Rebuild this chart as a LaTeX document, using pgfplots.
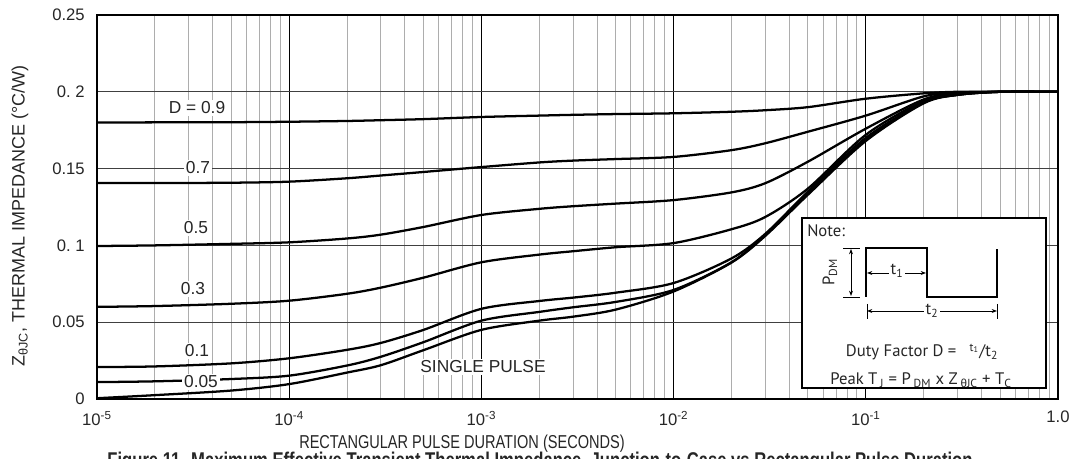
\documentclass[border=0pt]{standalone}
\usepackage{fontspec}
\setmainfont{Liberation Sans}
\newfontfamily\narrowfont[FakeStretch=0.78]{Liberation Sans}
\newfontfamily\notefont{PT Sans}
\usepackage{pgfplots}
\usepackage{pgfplotstable}
\pgfplotsset{compat=1.18}
\usetikzlibrary{arrows.meta}

% Z_thetaJC vs pulse duration, one column per duty factor
\pgfplotstableread{
t      d9     d7     d5     d3     d1     d05    sp
1e-5   0.1800 0.1406 0.0996 0.0600 0.0208 0.0110 0.0005
2e-5   0.1801 0.1406 0.1000 0.0605 0.0212 0.0115 0.0025
5e-5   0.1802 0.1408 0.1010 0.0620 0.0232 0.0130 0.0055
1e-4   0.1805 0.1415 0.1020 0.0640 0.0265 0.0152 0.0097
2e-4   0.1810 0.1437 0.1045 0.0685 0.0320 0.0218 0.0172
3e-4   0.1815 0.1455 0.1070 0.0725 0.0365 0.0275 0.0220
5e-4   0.1822 0.1478 0.1120 0.0790 0.0450 0.0370 0.0318
1e-3   0.1836 0.1510 0.1198 0.0890 0.0587 0.0510 0.0450
2e-3   0.1845 0.1540 0.1238 0.0940 0.0638 0.0567 0.0510
3e-3   0.1850 0.1552 0.1255 0.0962 0.0660 0.0597 0.0536
5e-3   0.1855 0.1562 0.1272 0.0988 0.0692 0.0632 0.0582
1e-2   0.1860 0.1576 0.1295 0.1015 0.0755 0.0710 0.0700
2e-2   0.1870 0.1620 0.1345 0.1105 0.0915 0.0890 0.0888
3e-2   0.1880 0.1665 0.1405 0.1185 0.1075 0.1070 0.1062
5e-2   0.1900 0.1740 0.1545 0.1370 0.1350 0.1340 0.1330
1e-1   0.1955 0.1845 0.1760 0.1720 0.1700 0.1690 0.1680
2e-1   0.1990 0.1970 0.1950 0.1940 0.1930 0.1930 0.1925
3e-1   0.2000 0.1995 0.1990 0.1985 0.1980 0.1980 0.1980
5e-1   0.2000 0.2000 0.2000 0.2000 0.2000 0.2000 0.2000
1      0.2000 0.2000 0.2000 0.2000 0.2000 0.2000 0.2000
}\zjc

\begin{document}
\begin{tikzpicture}
\useasboundingbox (-72.75pt,-45pt) rectangle (731.25pt,299.25pt);
\begin{axis}[
    at={(0,0)}, anchor=south west,
    scale only axis, width=720.75pt, height=288pt,
    xmode=log, log basis x=10,
    xmin=1e-5, xmax=1, ymin=0, ymax=0.25,
    xtick={1e-5,1e-4,1e-3,1e-2,1e-1,1},
    xticklabels={10\textsuperscript{-5},10\textsuperscript{-4},10\textsuperscript{-3},10\textsuperscript{-2},10\textsuperscript{-1},1.0},
    minor xtick={2e-5,3e-5,4e-5,5e-5,6e-5,7e-5,8e-5,9e-5,
                 2e-4,3e-4,4e-4,5e-4,6e-4,7e-4,8e-4,9e-4,
                 2e-3,3e-3,4e-3,5e-3,6e-3,7e-3,8e-3,9e-3,
                 2e-2,3e-2,4e-2,5e-2,6e-2,7e-2,8e-2,9e-2,
                 0.2,0.3,0.4,0.5,0.6,0.7,0.8,0.9},
    ytick={0,0.05,0.1,0.15,0.2,0.25},
    yticklabels={0,0.05,0.\ 1,0.15,0.\ 2,0.25},
    major tick length=0pt, minor tick length=0pt,
    xmajorgrids, xminorgrids, ymajorgrids,
    major x grid style={black, line width=0.8pt},
    minor x grid style={black!32, line width=0.75pt},
    major y grid style={black!75, line width=0.8pt},
    axis line style={line width=2.2pt},
    tick label style={font=\fontsize{12.5}{14}\selectfont, text=black!85},
    yticklabel style={anchor=east, inner sep=0pt, xshift=-9pt},
    xticklabel style={anchor=north, inner sep=0pt, yshift=-9pt},
]
\addplot[black, line width=1.7pt, smooth] table[x=t, y=d9] {\zjc};
\addplot[black, line width=1.7pt, smooth] table[x=t, y=d7] {\zjc};
\addplot[black, line width=1.7pt, smooth] table[x=t, y=d5] {\zjc};
\addplot[black, line width=1.7pt, smooth] table[x=t, y=d3] {\zjc};
\addplot[black, line width=1.7pt, smooth] table[x=t, y=d1] {\zjc};
\addplot[black, line width=1.7pt, smooth] table[x=t, y=d05] {\zjc};
\addplot[black, line width=1.7pt, smooth] table[x=t, y=sp] {\zjc};
\end{axis}

% annotations, in pixel units of the reference
\begin{scope}[x=0.75pt, y=-0.75pt, shift={(-72.75pt,299.25pt)}]
\tikzset{lbl/.style={fill=white, inner sep=1.5pt, text=black!85, font=\fontsize{13}{15}\selectfont}}
\node[lbl] at (197,108) {D = 0.9};
\node[lbl] at (198,168) {0.7};
\node[lbl] at (196,228) {0.5};
\node[lbl] at (193,289) {0.3};
\node[lbl] at (197,351) {0.1};
\node[lbl] at (201,382) {0.05};
\node[lbl] at (483,367) {SINGLE PULSE};

\node[rotate=90, text=black!85, font=\fontsize{13.5}{15}\selectfont] at (20,216)
  {Z\textsubscript{θJC}, THERMAL IMPEDANCE (°C/W)};
\node[text=black!85, font=\narrowfont\fontsize{14}{16}\selectfont] at (462,444)
  {RECTANGULAR PULSE DURATION (SECONDS)};
\node[anchor=north, inner sep=0pt, text=black!85, font=\narrowfont\bfseries\fontsize{16}{18}\selectfont] at (540,452)
  {Figure 11. Maximum Effective Transient Thermal Impedance, Junction-to-Case vs Rectangular Pulse Duration};

% note box
\draw[line width=1.6pt, fill=white] (802,218) rectangle (1046,388);
\begin{scope}[font=\notefont\fontsize{12.5}{14}\selectfont, text=black!85]
\node[anchor=west, inner sep=0pt] at (807,231) {Note:};
\draw[line width=1.3pt] (866,297) -- (866,248) -- (927,248) -- (927,297) -- (997,297) -- (997,249);
\draw[line width=0.6pt] (843,248) -- (860,248) (843,297) -- (860,297);
\draw[line width=0.6pt, {Stealth[length=4pt,width=3pt]}-{Stealth[length=4pt,width=3pt]}] (851,249) -- (851,296);
\node[rotate=90] at (830,272) {P\textsubscript{DM}};
\draw[line width=0.6pt, {Stealth[length=4pt,width=3pt]}-{Stealth[length=4pt,width=3pt]}] (867,273) -- (926,273);
\node[fill=white, inner sep=1pt] at (897,271) {t\textsubscript{1}};
\draw[line width=0.6pt] (867,304) -- (867,319) (997,304) -- (997,319);
\draw[line width=0.6pt, {Stealth[length=4pt,width=3pt]}-{Stealth[length=4pt,width=3pt]}] (867,311) -- (997,311);
\node[fill=white, inner sep=1pt] at (932,311) {t\textsubscript{2}};
\node at (922,352) {Duty Factor D = \ \ \textsuperscript{t\textsubscript{1}}/t\textsubscript{2}};
\node at (921,380) {Peak T\,\textsubscript{J} = P\,\textsubscript{DM} x Z\,\textsubscript{{\rmfamily θ}JC} + T\textsubscript{C}};
\end{scope}
\end{scope}
\end{tikzpicture}
\end{document}
